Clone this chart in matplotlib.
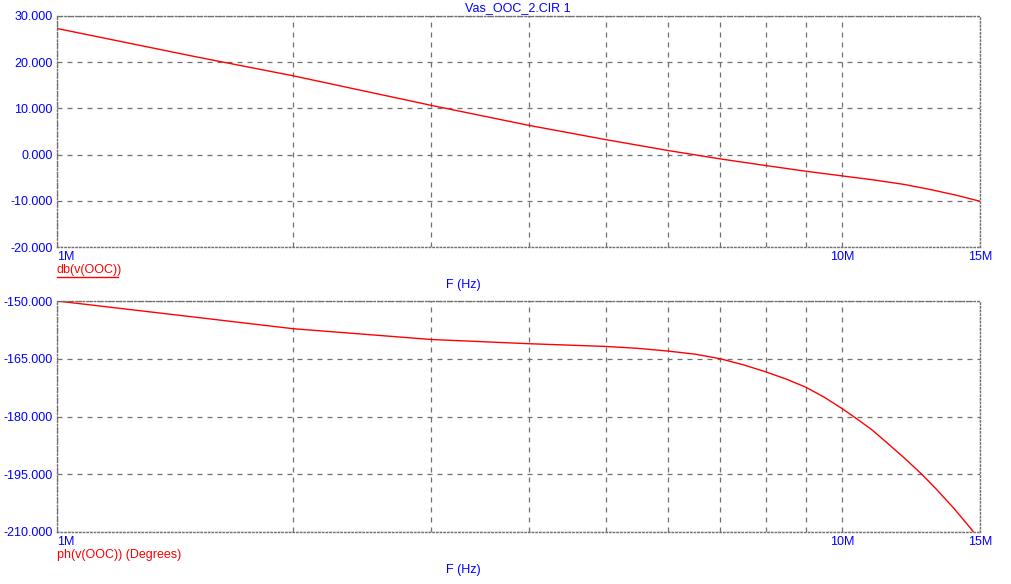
import matplotlib
matplotlib.use('Agg')
import matplotlib.pyplot as plt
import numpy as np

# frequencies (Hz) and values
freq_db = [1e6, 1.5e6, 2e6, 3e6, 4e6, 5e6, 6e6, 7e6, 8e6, 9e6, 10e6, 11e6, 12e6, 13e6, 14e6, 15e6]
db_vals = [27.3, 21.2, 17.05, 10.65, 6.3, 3.25, 0.9, -0.93, -2.37, -3.6, -4.6, -5.5, -6.45, -7.6, -8.8, -10.1]

freq_ph = [1e6, 1.5e6, 2e6, 3e6, 4e6, 5e6, 5.5e6, 6e6, 6.5e6, 7e6, 7.5e6, 8e6, 8.5e6, 9e6, 9.5e6,
           10e6, 10.35e6, 10.9e6, 11.4e6, 12e6, 12.6e6, 13.2e6, 13.9e6, 14.6e6, 15e6]
ph_vals = [-150.0, -154.2, -157.2, -160.0, -161.1, -161.8, -162.3, -163.0, -163.8, -165.0, -166.6,
           -168.4, -170.3, -172.4, -175.0, -177.9, -180.0, -183.3, -186.7, -190.7, -194.7,
           -198.9, -203.9, -209.1, -212.2]

xticks = [1e6, 10e6, 15e6]
xtick_labels = ['1M', '10M', '15M']
grid_x = [2e6, 3e6, 4e6, 5e6, 6e6, 7e6, 8e6, 9e6]

db_ticks = [-20, -10, 0, 10, 20, 30]
ph_ticks = [-210, -195, -180, -165, -150]

plt.rcParams['font.family'] = ['Liberation Sans', 'DejaVu Sans']
blue = '#0000ff'
W, H = 1012, 584

fig = plt.figure(figsize=(W / 100, H / 100), dpi=100)


def make_axes(top, bottom):
    ax = fig.add_axes([57 / W, (H - bottom) / H, (980 - 57) / W, (bottom - top) / H])
    ax.set_xscale('log')
    ax.set_xlim(1e6, 15e6)
    ax.set_xticks(xticks)
    ax.set_xticklabels(xtick_labels)
    ax.set_xticks(grid_x, minor=True)
    ax.xaxis.set_minor_formatter(plt.NullFormatter())
    ax.tick_params(which='both', length=0, colors=blue, labelsize=9)
    ax.tick_params(axis='x', pad=3)
    ax.tick_params(axis='y', pad=3)
    ax.grid(True, which='both', color='#707070', linestyle=(0, (4, 4)), linewidth=0.9)
    for s in ax.spines.values():
        s.set_color('#707070')
        s.set_linestyle(':')
        s.set_linewidth(1)
    labels = ax.get_xticklabels()
    labels[0].set_horizontalalignment('left')
    return ax


ax1 = make_axes(16, 247)
ax1.plot(freq_db, db_vals, color='red', linewidth=1)
ax1.set_ylim(-20, 30)
ax1.set_yticks(db_ticks)
ax1.set_yticklabels([f'{v:.3f}' for v in db_ticks])

ax2 = make_axes(301, 532)
ax2.plot(freq_ph, ph_vals, color='red', linewidth=1)
ax2.set_ylim(-210, -150)
ax2.set_yticks(ph_ticks)
ax2.set_yticklabels([f'{v:.3f}' for v in ph_ticks])

# texts
fig.text(518 / W, 1 - 8 / H, 'Vas_OOC_2.CIR 1', color=blue, fontsize=9, ha='center', va='center')
fig.text(57 / W, 1 - 270 / H, 'db(v(OOC))', color='red', fontsize=9, ha='left', va='center')
fig.add_artist(plt.Line2D([57 / W, 118 / W], [1 - 277 / H, 1 - 277 / H], color='red', linewidth=1))
fig.text(463 / W, 1 - 285 / H, 'F (Hz)', color=blue, fontsize=9, ha='center', va='center')
fig.text(57 / W, 1 - 555 / H, 'ph(v(OOC)) (Degrees)', color='red', fontsize=9, ha='left', va='center')
fig.text(463 / W, 1 - 570 / H, 'F (Hz)', color=blue, fontsize=9, ha='center', va='center')

fig.savefig('out.png', dpi=100)
